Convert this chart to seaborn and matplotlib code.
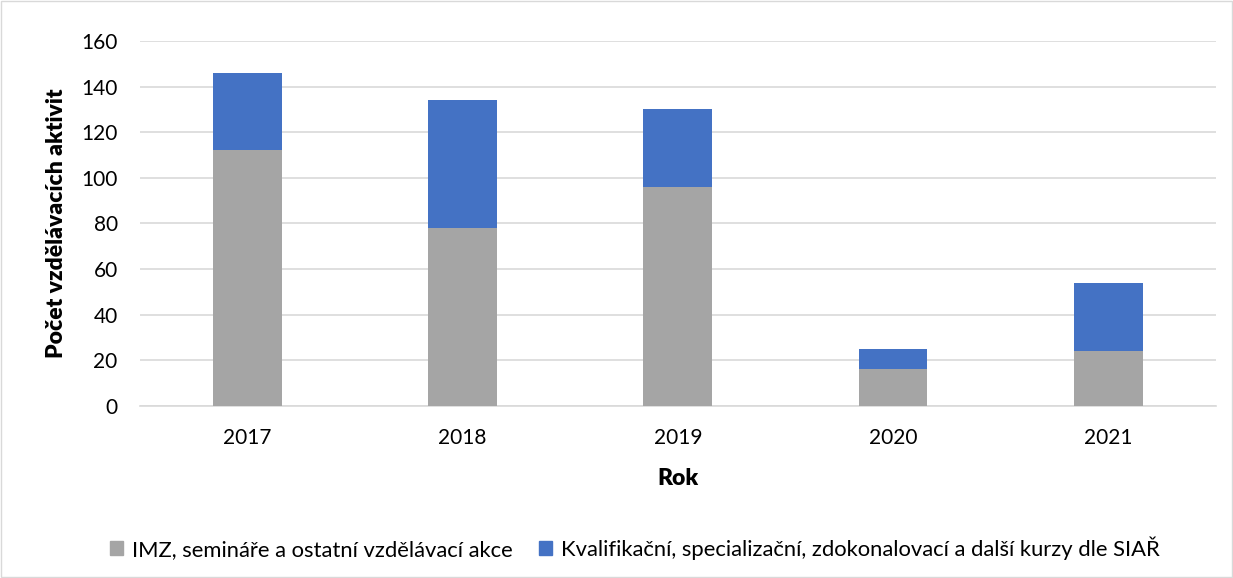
import numpy as np
import pandas as pd
import matplotlib
matplotlib.use("Agg")
import matplotlib.pyplot as plt
import seaborn as sns
from matplotlib.patches import Patch

years = ["2017", "2018", "2019", "2020", "2021"]
imz = [112, 78, 96, 16, 24]
kurzy = [34, 56, 34, 9, 30]

label_imz = "IMZ, semináře a ostatní vzdělávací akce"
label_kurzy = "Kvalifikační, specializační, zdokonalovací a další kurzy dle SIAŘ"

sns.set_style("white")
plt.rcParams['font.family'] = ['Lato', 'DejaVu Sans']
plt.rcParams['text.color'] = 'black'
plt.rcParams['axes.labelcolor'] = 'black'

gray = "#a5a5a5"
blue = "#4472c4"

df = pd.DataFrame({"rok": years, "imz": imz, "kurzy": kurzy})
df["total"] = df["imz"] + df["kurzy"]

fig = plt.figure(figsize=(12.33, 5.78), dpi=100)
ax = fig.add_axes([0.1135, 0.2976, 0.8725, 0.6315])

sns.barplot(data=df, x="rok", y="total", color=blue, width=0.32, ax=ax,
            saturation=1, linewidth=0, zorder=2)
sns.barplot(data=df, x="rok", y="imz", color=gray, width=0.32, ax=ax,
            saturation=1, linewidth=0, zorder=3)

ax.set_ylim(0, 160)
ax.set_xlim(-0.5, 4.5)
ax.set_yticks(range(0, 161, 20))
ax.yaxis.grid(True, color="#d9d9d9", linewidth=1.2, zorder=0)
ax.set_axisbelow(True)
for s in ["top", "right", "left"]:
    ax.spines[s].set_visible(False)
ax.spines["bottom"].set_color("#d9d9d9")
ax.spines["bottom"].set_linewidth(1.2)
ax.tick_params(axis="both", length=0, labelsize=15, colors="#000000")
ax.tick_params(axis="y", pad=16)
ax.tick_params(axis="x", pad=16)

ax.set_xlabel("Rok", fontsize=16.5, fontweight="heavy", labelpad=14, color="black")
ax.set_ylabel("Počet vzdělávacích aktivit", fontsize=16.5, fontweight="heavy",
              labelpad=10, color="black")

handles = [Patch(color=gray, label=label_imz), Patch(color=blue, label=label_kurzy)]
fig.legend(handles=handles, loc="center", bbox_to_anchor=(0.515, 0.052), ncol=2,
           frameon=False, fontsize=15.8, handlelength=0.6, handleheight=0.6,
           columnspacing=1.2, handletextpad=0.4)

# thin frame around the whole figure
fig.patches.append(plt.Rectangle((0.001, 0.001), 0.998, 0.998, transform=fig.transFigure,
                                 fill=False, edgecolor="#d9d9d9", linewidth=1))

fig.savefig("out.png", dpi=100)
